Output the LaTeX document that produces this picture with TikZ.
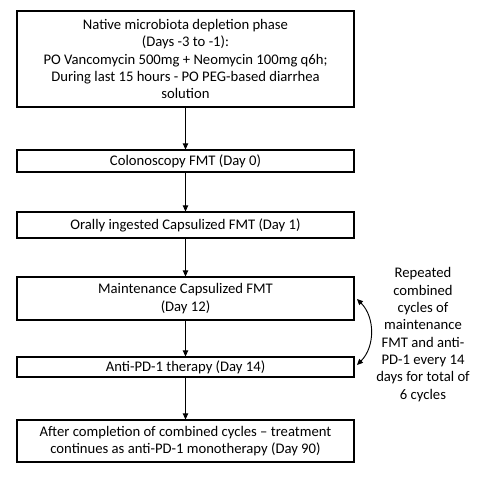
\documentclass[tikz,border=0pt]{standalone}
\usepackage{fontspec}
\setmainfont{Carlito}
\usetikzlibrary{arrows.meta}
\begin{document}
\begin{tikzpicture}[x=0.75pt,y=-0.75pt,
  box/.style={draw, line width=0.8pt, align=center, inner sep=0pt, minimum width=252.75pt, font=\fontsize{11}{13}\selectfont},
  arr/.style={-{Triangle[length=4.5pt,width=4pt]}, line width=0.7pt}]
\useasboundingbox (0,0) rectangle (490,477);
\node[box, minimum height=72pt] (b1) at (185.5,59) {Native microbiota depletion phase\\(Days -3 to -1):\\PO Vancomycin 500mg + Neomycin 100mg q6h;\\During last 15 hours - PO PEG-based diarrhea\\solution};
\node[box, minimum height=16.5pt] (b2) at (185.5,161) {Colonoscopy FMT (Day 0)};
\node[box, minimum height=19.5pt] (b3) at (185.5,225) {Orally ingested Capsulized FMT (Day 1)};
\node[box, minimum height=32.25pt] (b4) at (185.5,298.5) {Maintenance Capsulized FMT\\(Day 12)};
\node[box, minimum height=15pt] (b5) at (185.5,367) {Anti-PD-1 therapy (Day 14)};
\node[box, minimum height=31.5pt] (b6) at (185.5,441) {After completion of combined cycles -- treatment\\continues as anti-PD-1 monotherapy (Day 90)};
\draw[arr] (b1.south) -- (b2.north);
\draw[arr] (b2.south) -- (b3.north);
\draw[arr] (b3.south) -- (b4.north);
\draw[arr] (b4.south) -- (b5.north);
\draw[arr] (b5.south) -- (b6.north);
\coordinate (c1) at (357,299);
\coordinate (c2) at (357,365);
\draw[{Triangle[length=4.5pt,width=4pt]}-{Triangle[length=4.5pt,width=4pt]}, line width=0.7pt] (c1) to[bend left=45] (c2);
\node[align=center, inner sep=0pt, font=\fontsize{11}{13}\selectfont] (note) at (423,334.5) {Repeated\\combined\\cycles of\\maintenance\\FMT and anti-\\PD-1 every 14\\days for total of\\6 cycles};
\end{tikzpicture}
\end{document}
